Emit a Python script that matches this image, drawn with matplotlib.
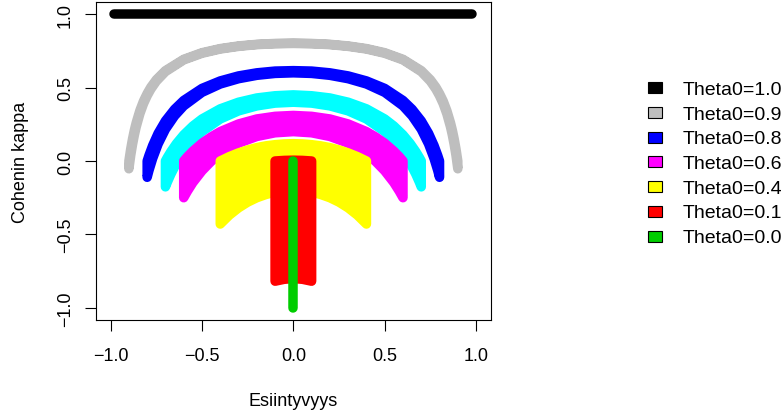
import matplotlib
matplotlib.use("Agg")
import matplotlib.pyplot as plt
from matplotlib.patches import Polygon, Rectangle

plt.rcParams['font.family'] = ['Liberation Sans', 'DejaVu Sans']

# ---- data (band boundaries: x, upper kappa, lower kappa) ----
x_10 = [-0.98, 0.98]
hi_10 = [1.0, 1.0]
lo_10 = [1.0, 1.0]

x_09 = [-0.9, -0.89, -0.88, -0.87, -0.86, -0.84, -0.82, -0.8, -0.78, -0.75, -0.7, -0.6, -0.5, -0.4, -0.3, -0.2, -0.1, 0.0,
        0.1, 0.2, 0.3, 0.4, 0.5, 0.6, 0.7, 0.75, 0.78, 0.8, 0.82, 0.84, 0.86, 0.87, 0.88, 0.89, 0.9]
hi_09 = [0.0, 0.082, 0.151, 0.210, 0.260, 0.343, 0.408, 0.459, 0.502, 0.553, 0.615, 0.692, 0.737, 0.765, 0.783, 0.794, 0.800, 0.802,
         0.800, 0.794, 0.783, 0.765, 0.737, 0.692, 0.615, 0.553, 0.502, 0.459, 0.408, 0.343, 0.260, 0.210, 0.151, 0.082, 0.0]
lo_09 = [-0.053, 0.038, 0.113, 0.177, 0.232, 0.321, 0.390, 0.444, 0.489, 0.543, 0.608, 0.688, 0.733, 0.762, 0.780, 0.792, 0.798, 0.800,
         0.798, 0.792, 0.780, 0.762, 0.733, 0.688, 0.608, 0.543, 0.489, 0.444, 0.390, 0.321, 0.232, 0.177, 0.113, 0.038, -0.053]

x_08 = [-0.8, -0.79, -0.77, -0.74, -0.7, -0.65, -0.6, -0.5, -0.4, -0.3, -0.2, -0.1, 0.0,
        0.1, 0.2, 0.3, 0.4, 0.5, 0.6, 0.65, 0.7, 0.74, 0.77, 0.79, 0.8]
hi_08 = [0.0, 0.038, 0.105, 0.188, 0.273, 0.352, 0.412, 0.494, 0.545, 0.579, 0.600, 0.612, 0.615,
         0.612, 0.600, 0.579, 0.545, 0.494, 0.412, 0.352, 0.273, 0.188, 0.105, 0.038, 0.0]
lo_08 = [-0.111, -0.064, 0.017, 0.116, 0.216, 0.307, 0.375, 0.467, 0.524, 0.560, 0.583, 0.596, 0.600,
         0.596, 0.583, 0.560, 0.524, 0.467, 0.375, 0.307, 0.216, 0.116, 0.017, -0.064, -0.111]

x_07 = [-0.7, -0.69, -0.67, -0.64, -0.6, -0.55, -0.5, -0.4, -0.3, -0.2, -0.1, 0.0,
        0.1, 0.2, 0.3, 0.4, 0.5, 0.55, 0.6, 0.64, 0.67, 0.69, 0.7]
hi_07 = [0.0, 0.023, 0.064, 0.118, 0.178, 0.238, 0.286, 0.355, 0.400, 0.429, 0.444, 0.450,
         0.444, 0.429, 0.400, 0.355, 0.286, 0.238, 0.178, 0.118, 0.064, 0.023, 0.0]
lo_07 = [-0.176, -0.145, -0.089, -0.016, 0.063, 0.140, 0.200, 0.286, 0.341, 0.375, 0.394, 0.400,
         0.394, 0.375, 0.341, 0.286, 0.200, 0.140, 0.063, -0.016, -0.089, -0.145, -0.176]

x_06 = [-0.6, -0.58, -0.55, -0.5, -0.45, -0.4, -0.3, -0.2, -0.1, 0.0,
        0.1, 0.2, 0.3, 0.4, 0.45, 0.5, 0.55, 0.58, 0.6]
hi_06 = [0.0, 0.029, 0.067, 0.121, 0.164, 0.200, 0.252, 0.286, 0.304, 0.310,
         0.304, 0.286, 0.252, 0.200, 0.164, 0.121, 0.067, 0.029, 0.0]
lo_06 = [-0.250, -0.206, -0.147, -0.067, -0.003, 0.048, 0.121, 0.167, 0.192, 0.200,
         0.192, 0.167, 0.121, 0.048, -0.003, -0.067, -0.147, -0.206, -0.250]

x_04 = [-0.4, -0.35, -0.3, -0.25, -0.2, -0.15, -0.1, -0.05, 0.0, 0.05, 0.1, 0.15, 0.2, 0.25, 0.3, 0.35, 0.4]
hi_04 = [0.0, 0.030, 0.055, 0.075, 0.091, 0.103, 0.111, 0.116, 0.118, 0.116, 0.111, 0.103, 0.091, 0.075, 0.055, 0.030, 0.0]
lo_04 = [-0.429, -0.368, -0.319, -0.280, -0.250, -0.228, -0.212, -0.203, -0.200, -0.203, -0.212, -0.228, -0.250, -0.280, -0.319, -0.368, -0.429]

x_01 = [-0.1, -0.05, 0.0, 0.05, 0.1]
hi_01 = [0.0, 0.004, 0.0055, 0.004, 0.0]
lo_01 = [-0.818, -0.805, -0.800, -0.805, -0.818]

x_00 = [0.0]
hi_00 = [0.0]
lo_00 = [-1.0]

series = [
    (x_10, hi_10, lo_10, '#000000'),
    (x_09, hi_09, lo_09, '#BEBEBE'),
    (x_08, hi_08, lo_08, '#0000FF'),
    (x_07, hi_07, lo_07, '#00FFFF'),
    (x_06, hi_06, lo_06, '#FF00FF'),
    (x_04, hi_04, lo_04, '#FFFF00'),
    (x_01, hi_01, lo_01, '#FF0000'),
    (x_00, hi_00, lo_00, '#00CD00'),
]

legend_labels = ['Theta0=1.0', 'Theta0=0.9', 'Theta0=0.8', 'Theta0=0.6',
                 'Theta0=0.4', 'Theta0=0.1', 'Theta0=0.0']
legend_colors = ['#000000', '#BEBEBE', '#0000FF', '#FF00FF', '#FFFF00', '#FF0000', '#00CD00']

tick_vals = [-1.0, -0.5, 0.0, 0.5, 1.0]
tick_labels = ['\u22121.0', '\u22120.5', '0.0', '0.5', '1.0']

# ---- figure ----
W, H = 784, 414
fig = plt.figure(figsize=(W / 100, H / 100), dpi=100)
ax = fig.add_axes([96 / W, (H - 320.7) / H, (490.7 - 96) / W, (320.7 - 3.3) / H])
ax.set_xlim(-1.08, 1.08)
ax.set_ylim(-1.08, 1.08)

dot_lw = 6.84  # points, ~9.5 px dot diameter
for xs, hs, ls, col in series:
    verts = list(zip(xs, hs)) + list(zip(xs[::-1], ls[::-1]))
    poly = Polygon(verts, closed=True, facecolor=col, edgecolor=col,
                   linewidth=dot_lw, joinstyle='round', capstyle='round')
    ax.add_patch(poly)

for sp in ax.spines.values():
    sp.set_linewidth(0.8)
    sp.set_color('black')

ax.set_xticks(tick_vals)
ax.set_xticklabels(tick_labels)
ax.set_yticks(tick_vals)
ax.set_yticklabels(tick_labels)
ax.tick_params(axis='both', direction='out', length=7.8, width=0.8, labelsize=13, color='black')
ax.tick_params(axis='x', pad=11.9)
ax.tick_params(axis='y', pad=8.2)
for lbl in ax.get_yticklabels():
    lbl.set_rotation(90)
    lbl.set_va('center')
    lbl.set_ha('right')

ax.set_xlabel('Esiintyvyys', fontsize=13)
ax.xaxis.set_label_coords(0.5, -0.2278)
ax.set_ylabel('Cohenin kappa', fontsize=13)
ax.yaxis.set_label_coords(-0.1703, 0.5)

# ---- legend (no frame), drawn in figure pixel positions ----
for i, (lab, col) in enumerate(zip(legend_labels, legend_colors)):
    cy = 88.8 + 24.7 * i
    fig.patches.append(Rectangle(((655 - 7) / W, 1 - (cy + 5.5) / H), 14 / W, 11 / H,
                                 transform=fig.transFigure, facecolor=col,
                                 edgecolor='black', linewidth=0.8))
    fig.text(683 / W, 1 - (95 + 24.7 * i) / H, lab, fontsize=14, ha='left', va='baseline')

fig.savefig('out.png', dpi=100)
